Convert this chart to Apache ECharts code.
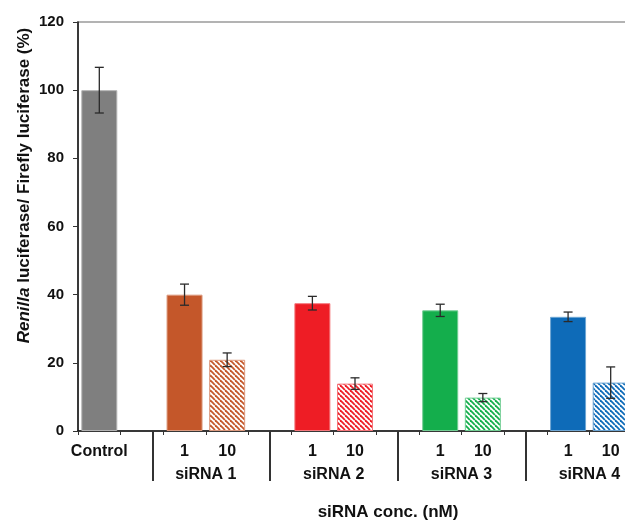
<!DOCTYPE html>
<html>
<head>
<meta charset="utf-8">
<script src="https://cdn.jsdelivr.net/npm/echarts@6/dist/echarts.min.js"></script>
<style>
  html, body { margin: 0; padding: 0; background: #fff; overflow: hidden; }
  #chart { width: 625px; height: 522px; }
</style>
</head>
<body>
<div id="chart"></div>
<script>
// Category slots along the x axis (empty slots separate the siRNA groups)
const categories = ['Control', '', '1', '10', '', '1', '10', '', '1', '10', '', '1', '10'];
// Mean ratio (%) per slot and its error (±)
const means  = [100, null, 40.0, 20.9, null, 37.5, 13.9, null, 35.4, 9.8, null, 33.5, 14.2];
const errors = [6.7, null, 3.1, 2.0, null, 2.0, 1.7, null, 1.8, 1.2, null, 1.4, 4.6];
// Second-level group labels, centred between the 1 nM and 10 nM slots
const groupLabels  = ['siRNA 1', 'siRNA 2', 'siRNA 3', 'siRNA 4'];
const groupCenters = [2.5, 5.5, 8.5, 11.5];
// Group divider positions, in slot units
const groupBreaks  = [1.25, 4, 7, 10];
// Y axis range
const yMin = 0, yMax = 120, yStep = 20;

// Colours: control, siRNA 1..4
const groupColors = ['#7f7f7f', '#c4572a', '#ee1d25', '#14ae4c', '#0e6bb8'];
const FONT = '"Liberation Sans", Arial, sans-serif';
const TEXT = '#111';

function tint(hex, t) {
  const n = parseInt(hex.slice(1), 16);
  const r = (n >> 16) & 255, g = (n >> 8) & 255, b = n & 255;
  const m = c => Math.round(c + (255 - c) * t);
  return 'rgb(' + m(r) + ',' + m(g) + ',' + m(b) + ')';
}

// Diagonal hatch tile for the 10 nM bars
function hatch(color) {
  const p = 5;
  const c = document.createElement('canvas');
  c.width = p; c.height = p;
  const ctx = c.getContext('2d');
  ctx.fillStyle = '#fff';
  ctx.fillRect(0, 0, p, p);
  ctx.strokeStyle = color;
  ctx.lineWidth = 1.8;
  for (let k = -1; k <= 1; k++) {
    ctx.beginPath();
    ctx.moveTo(k * p, 0);
    ctx.lineTo(k * p + p, p);
    ctx.stroke();
  }
  return { image: c, repeat: 'repeat' };
}

function styleFor(i) {
  if (i === 0) return { color: groupColors[0], borderColor: '#b3b3b3', borderWidth: 1 };
  const g = Math.floor((i - 2) / 3) + 1;
  const hatched = (i - 2) % 3 === 1;
  const base = groupColors[g];
  return hatched
    ? { color: hatch(base), borderColor: tint(base, 0.4), borderWidth: 1 }
    : { color: base, borderColor: tint(base, 0.4), borderWidth: 1 };
}

const barData = means.map((v, i) => v == null ? '-' : { value: v, itemStyle: styleFor(i) });
const errData = [];
means.forEach((v, i) => { if (v != null) errData.push([i, v - errors[i], v + errors[i]]); });

const chart = echarts.init(document.getElementById('chart'), null, { renderer: 'canvas' });

// The plot area runs a little past the right edge of the page
chart.setOption({
  animation: false,
  backgroundColor: '#fff',
  grid: {
    left: 78, top: 22, width: 554, height: 409,
    outerBoundsMode: 'none',
    containLabel: false,
    show: true, borderColor: '#9a9a9a', borderWidth: 1.5, backgroundColor: 'transparent'
  },
  xAxis: [
    {
      type: 'category',
      data: categories,
      position: 'bottom',
      axisLine: { onZero: false, lineStyle: { color: '#111', width: 1.5 } },
      axisTick: { show: true, length: 4, lineStyle: { color: '#333', width: 1 } },
      axisLabel: {
        interval: 0, margin: 13, color: TEXT,
        fontFamily: FONT, fontWeight: 'bold', fontSize: 16
      },
      name: 'siRNA conc. (nM)',
      nameLocation: 'middle',
      nameGap: 73,
      nameMoveOverlap: false,
      nameTextStyle: {
        color: TEXT, fontFamily: FONT, fontWeight: 'bold', fontSize: 17,
        padding: [0, 0, 0, 66]
      }
    },
    {
      type: 'value',
      min: -0.5, max: 12.5,
      position: 'bottom',
      axisLine: { show: false, onZero: false },
      splitLine: { show: false },
      axisTick: {
        show: true, customValues: groupBreaks, length: 50, inside: false,
        lineStyle: { color: '#333', width: 2 }
      },
      axisLabel: {
        customValues: groupCenters,
        formatter: v => {
          const k = groupCenters.indexOf(v);
          return k >= 0 ? groupLabels[k] : '';
        },
        margin: 36, color: TEXT,
        fontFamily: FONT, fontWeight: 'bold', fontSize: 16
      }
    }
  ],
  yAxis: {
    type: 'value',
    min: yMin, max: yMax, interval: yStep,
    axisLine: { show: true, onZero: false, lineStyle: { color: '#111', width: 1.5 } },
    axisTick: { show: true, length: 5, lineStyle: { color: '#333', width: 1 } },
    splitLine: { show: false },
    axisLabel: {
      margin: 14, color: TEXT,
      fontFamily: FONT, fontWeight: 'bold', fontSize: 15
    },
    name: '{i|Renilla}{b| luciferase/ Firefly luciferase (%)}',
    nameLocation: 'middle',
    nameRotate: 90,
    nameGap: 45,
    nameMoveOverlap: false,
    nameTextStyle: {
      padding: [0, 0, 0, 82],
      rich: {
        i: { fontFamily: FONT, fontWeight: 'bold', fontStyle: 'italic', fontSize: 17, color: TEXT },
        b: { fontFamily: FONT, fontWeight: 'bold', fontSize: 17, color: TEXT }
      }
    }
  },
  series: [
    {
      type: 'bar',
      xAxisIndex: 0,
      barWidth: 36,
      data: barData
    },
    {
      type: 'custom',
      xAxisIndex: 0,
      data: errData,
      dimensions: ['slot', 'low', 'high'],
      encode: { x: 'slot', y: ['low', 'high'] },
      z: 5,
      renderItem: (params, api) => {
        const x = api.value('slot');
        const lo = api.coord([x, api.value('low')]);
        const hi = api.coord([x, api.value('high')]);
        const w = 4.5;
        const st = () => ({ stroke: '#2a2a2a', lineWidth: 1.3 });
        return {
          type: 'group',
          children: [
            { type: 'line', shape: { x1: hi[0], y1: hi[1], x2: lo[0], y2: lo[1] }, style: st() },
            { type: 'line', shape: { x1: hi[0] - w, y1: hi[1], x2: hi[0] + w, y2: hi[1] }, style: st() },
            { type: 'line', shape: { x1: lo[0] - w, y1: lo[1], x2: lo[0] + w, y2: lo[1] }, style: st() }
          ]
        };
      }
    }
  ]
});
</script>
</body>
</html>
